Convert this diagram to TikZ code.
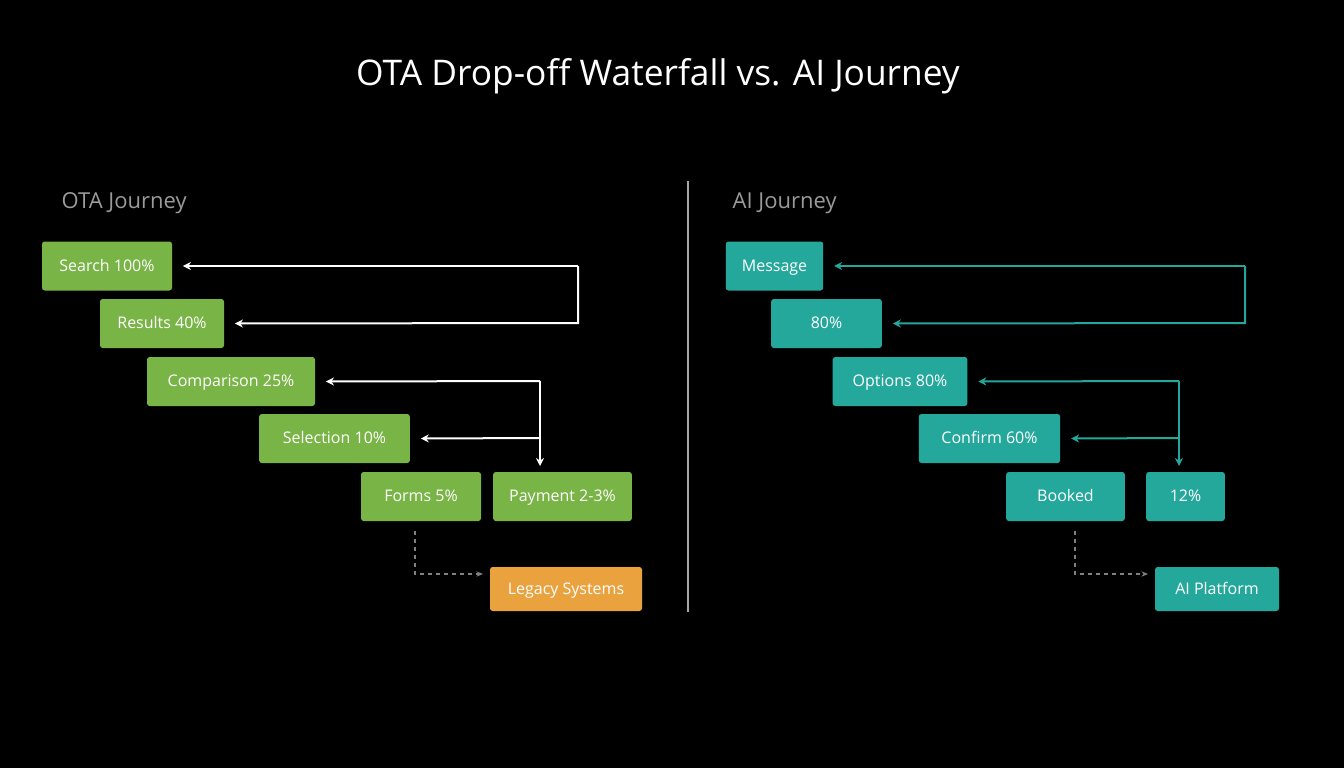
\documentclass[tikz,border=0pt]{standalone}
\usepackage{fontspec}
\setmainfont{Open Sans}
\usetikzlibrary{arrows.meta}
\definecolor{grn}{HTML}{79B446}
\definecolor{tel}{HTML}{25A89C}
\definecolor{org}{HTML}{E9A23E}
\definecolor{lbl}{HTML}{9A9A9A}
\begin{document}
\begin{tikzpicture}[x=0.75pt,y=-0.75pt,
  box/.style={rounded corners=2pt,text=white,font=\fontsize{12}{14}\selectfont,inner sep=0pt,text height=8.7pt,text depth=0.5pt},
  g/.style={box,fill=grn},t/.style={box,fill=tel},o/.style={box,fill=org},
  wl/.style={draw=white,line width=1.5pt,-{Stealth[length=6pt,width=6pt]}},
  tl/.style={draw=tel,line width=1.5pt,-{Stealth[length=6pt,width=6pt]}},
  dl/.style={draw=gray,dashed,line width=0.8pt,-{Stealth[length=5pt,width=4pt]}}]
\fill[black] (0,0) rectangle (1344,768);
\useasboundingbox (0,0) rectangle (1344,768);
\node[text=white,font=\fontsize{26.5}{30}\selectfont] (title) at (658,76) {OTA Drop-off Waterfall vs. AI Journey};
\node[text=lbl,font=\fontsize{16.5}{20}\selectfont,anchor=west] (l1) at (57,203) {OTA Journey};
\node[text=lbl,font=\fontsize{16.5}{20}\selectfont,anchor=west] (l2) at (728,203) {AI Journey};
\draw[draw=gray!70,line width=1pt] (688,181) coordinate (d1) -- (688,612) coordinate (d2);
% left
\node[g,minimum width=97.5pt,minimum height=36.75pt] (s) at (107,266) {Search 100\%};
\node[g,minimum width=93pt,minimum height=36.75pt] (r) at (162,323.5) {Results 40\%};
\node[g,minimum width=126pt,minimum height=36.75pt] (c) at (231,381.5) {Comparison 25\%};
\node[g,minimum width=113pt,minimum height=36.75pt] (se) at (334.5,438.5) {Selection 10\%};
\node[g,minimum width=90pt,minimum height=36.75pt] (f) at (421,496.5) {Forms 5\%};
\node[g,minimum width=104pt,minimum height=36.75pt] (p) at (562.5,496.5) {Payment 2-3\%};
\node[o,minimum width=114pt,minimum height=33pt] (lg) at (566,589) {Legacy Systems};
\coordinate (a1) at (578,266); \coordinate (a2) at (578,323);
\draw[wl] (a1) -- ([xshift=8pt]s.east);
\draw[wl] (a1) -- (a2) -- ([xshift=8pt]r.east);
\coordinate (b1) at (540,381); \coordinate (b2) at (540,438);
\draw[wl] (b1) -- ([xshift=8pt]c.east);
\draw[wl] (b2) -- ([xshift=8pt]se.east);
\draw[wl] (b1) -- (540,466);
\coordinate (e1) at (415,574);
\draw[dl] (415,531) -- (e1) -- ([xshift=-5pt]lg.west|-e1);
% right
\node[t,minimum width=73pt,minimum height=36.75pt] (m) at (774.5,266) {Message};
\node[t,minimum width=83pt,minimum height=36.75pt] (e) at (826.5,323.5) {80\%};
\node[t,minimum width=101pt,minimum height=36.75pt] (op) at (900,381.5) {Options 80\%};
\node[t,minimum width=106pt,minimum height=36.75pt] (cf) at (989.5,438.5) {Confirm 60\%};
\node[t,minimum width=89pt,minimum height=36.75pt] (bk) at (1065.5,496.5) {Booked};
\node[t,minimum width=59pt,minimum height=36.75pt] (tw) at (1185.5,496.5) {12\%};
\node[t,minimum width=93pt,minimum height=33pt] (ai) at (1217,589) {AI Platform};
\coordinate (c1) at (1245,266); \coordinate (c2) at (1245,323);
\draw[tl] (c1) -- ([xshift=8pt]m.east);
\draw[tl] (c1) -- (c2) -- ([xshift=8pt]e.east);
\coordinate (f1) at (1179,381); \coordinate (f2) at (1179,438);
\draw[tl] (f1) -- ([xshift=8pt]op.east);
\draw[tl] (f2) -- ([xshift=8pt]cf.east);
\draw[tl] (f1) -- (1179,466);
\coordinate (g1) at (1075,574);
\draw[dl] (1075,531) -- (g1) -- ([xshift=-5pt]ai.west|-g1);
\end{tikzpicture}
\end{document}
